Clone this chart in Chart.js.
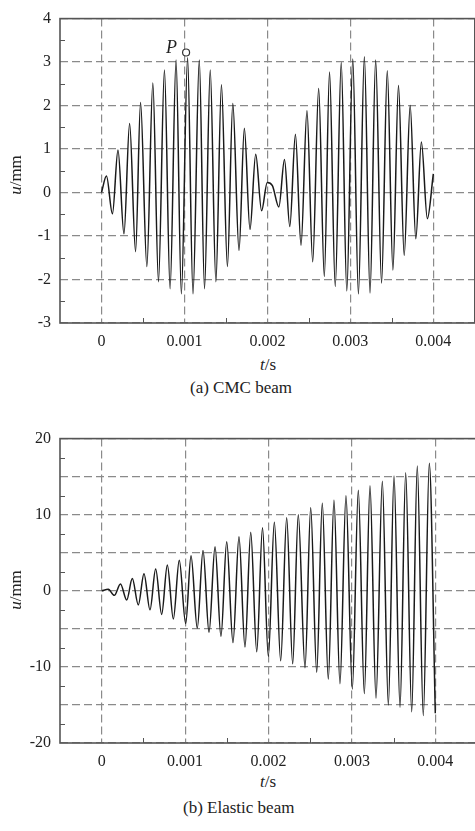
<!DOCTYPE html>
<html>
<head>
<meta charset="utf-8">
<script src="https://cdn.jsdelivr.net/npm/chart.js@4/dist/chart.umd.min.js"></script>
<style>
    html, body { margin: 0; padding: 0; background: #fff; }
    #wrap { position: relative; width: 475px; height: 831px; overflow: hidden; font-family: 'Liberation Serif', serif; color: #222; }
    canvas { position: absolute; left: 0; }
    .lbl { position: absolute; white-space: nowrap; font-size: 17px; }
    .ylab { position: absolute; font-size: 17px; transform: rotate(-90deg); transform-origin: center; white-space: nowrap; }
</style>
</head>
<body>
<div id="wrap">
    <canvas id="cmcChart" width="480" height="350" style="top:0"></canvas>
    <canvas id="elasticChart" width="480" height="350" style="top:420px"></canvas>

    <div class="ylab" style="left:-4px; top:165px;"><i>u</i>/mm</div>
    <div class="lbl" style="left:260px; top:355px;"><i>t</i>/s</div>
    <div class="lbl" style="left:190px; top:378px;">(a) CMC beam</div>

    <div class="ylab" style="left:-4px; top:580px;"><i>u</i>/mm</div>
    <div class="lbl" style="left:260px; top:772px;"><i>t</i>/s</div>
    <div class="lbl" style="left:183px; top:798px;">(b) Elastic beam</div>
</div>

<script>
// time axis ticks
const xTicks = [0, 0.001, 0.002, 0.003, 0.004];
const xMinor = [0.0005, 0.0015, 0.0025, 0.0035];

// (a) CMC beam: extrema
const cmcT = [0, 0.00006, 0.000132, 0.000199, 0.000271, 0.000339, 0.000411, 0.000471, 0.000547,
    0.000619, 0.000687, 0.000759, 0.000827, 0.000899, 0.000963, 0.001038, 0.001103, 0.001179,
    0.001242, 0.001311, 0.001379, 0.001446, 0.001518, 0.001583, 0.001658, 0.001722, 0.00179,
    0.001859, 0.00193, 0.001998, 0.00206, 0.002138, 0.002206, 0.00227, 0.002338, 0.002405,
    0.002477, 0.002546, 0.002618, 0.002686, 0.002749, 0.002818, 0.00289, 0.002957, 0.003029,
    0.003097, 0.003169, 0.003237, 0.003305, 0.003376, 0.003445, 0.003513, 0.00358, 0.003649,
    0.003721, 0.003789, 0.003856, 0.003928, 0.004];
const cmcU = [0, 0.38, -0.49, 0.98, -0.95, 1.59, -1.36, 2.07, -1.70,
    2.52, -2.05, 2.82, -2.21, 3.05, -2.33, 3.10, -2.33, 3.05,
    -2.21, 2.82, -2.05, 2.48, -1.70, 2.05, -1.33, 1.48, -0.85,
    0.88, -0.42, 0.23, 0.16, -0.33, 0.76, -0.78, 1.34, -1.21,
    1.88, -1.59, 2.39, -1.93, 2.77, -2.16, 2.99, -2.26, 3.07,
    -2.33, 3.12, -2.31, 3.05, -2.08, 2.80, -1.78, 2.46, -1.44,
    2.00, -1.06, 1.16, -0.60, 0.43];
const cmcMinorY = [-2.5, -1.5, -0.5, 0.5, 1.5, 2.5, 3.5];
const pointP = { t: 0.00102, u: 3.22 };

// (b) Elastic beam
const elaT = [0, 0.000079, 0.000151, 0.000225, 0.0003, 0.000367, 0.000439, 0.000507, 0.000579,
    0.000647, 0.000719, 0.000787, 0.000859, 0.00093, 0.001007, 0.001071, 0.001146, 0.001215,
    0.001287, 0.001359, 0.00143, 0.001499, 0.001574, 0.001646, 0.001718, 0.001787, 0.001859,
    0.001928, 0.001998, 0.00207, 0.002146, 0.002218, 0.00229, 0.002357, 0.002438, 0.002506,
    0.002578, 0.002645, 0.002717, 0.002785, 0.002857, 0.002929, 0.003005, 0.003077, 0.003149,
    0.003217, 0.003289, 0.003365, 0.003437, 0.003505, 0.003577, 0.003645, 0.003717, 0.003784,
    0.003856, 0.003928, 0.004];
const elaU = [0, 0.2, -0.6, 0.9, -1.2, 1.6, -1.85, 2.25, -2.5,
    2.85, -3.1, 3.4, -3.7, 4.0, -4.3, 4.6, -4.9, 5.3,
    -5.45, 5.8, -6.0, 6.45, -6.8, 7.1, -7.4, 7.7, -8.0,
    8.3, -8.6, 9.0, -9.2, 9.6, -9.6, 10.0, -10.1, 10.9,
    -10.7, 11.5, -11.6, 11.9, -12.2, 12.5, -12.9, 13.2, -13.5,
    13.8, -14.1, 14.4, -15.0, 15.1, -15.3, 15.5, -15.9, 16.4,
    -16.4, 16.75, -16.1];
const elaMinorY = [-17.5, -12.5, -7.5, -2.5, 2.5, 7.5, 12.5, 17.5];

const FONT = "'Liberation Serif', serif";

// frame, inside minor ticks and the "P" label
const framePlugin = {
    id: 'frame',
    afterDatasetsDraw(chart, args, opts) {
        const { ctx, chartArea: a, scales } = chart;
        const x = scales.x, y = scales.y;
        ctx.save();
        ctx.strokeStyle = '#555';
        ctx.lineWidth = 1;
        ctx.beginPath();
        xMinor.forEach(v => {
            const px = Math.round(x.getPixelForValue(v)) + 0.5;
            ctx.moveTo(px, a.bottom);
            ctx.lineTo(px, a.bottom - 5);
        });
        (opts.yMinor || []).forEach(v => {
            const py = Math.round(y.getPixelForValue(v)) + 0.5;
            ctx.moveTo(a.left, py);
            ctx.lineTo(a.left + 5, py);
        });
        ctx.stroke();

        ctx.lineWidth = 1.6;
        ctx.strokeRect(a.left, a.top, a.right - a.left, a.bottom - a.top);

        if (opts.pLabel) {
            const px = x.getPixelForValue(pointP.t);
            const py = y.getPixelForValue(pointP.u);
            ctx.fillStyle = '#222';
            ctx.font = `italic 18px ${FONT}`;
            ctx.textAlign = 'right';
            ctx.textBaseline = 'alphabetic';
            ctx.fillText('P', px - 9, py);
        }
        ctx.restore();
    }
};

function makeChart(id, t, u, yMin, yMax, yStep, yMinor, yLabelStep, topPad, withP) {
    const datasets = [{
        data: t.map((v, i) => ({ x: v, y: u[i] })),
        borderColor: '#1a1a1a',
        borderWidth: 1.5,
        pointRadius: 0,
        cubicInterpolationMode: 'monotone',
        fill: false
    }];
    if (withP) {
        datasets.push({
            data: [{ x: pointP.t, y: pointP.u }],
            showLine: false,
            pointRadius: 3.5,
            pointBackgroundColor: '#fff',
            pointBorderColor: '#333',
            pointBorderWidth: 1.2
        });
    }

    return new Chart(document.getElementById(id), {
        type: 'line',
        data: { datasets },
        options: {
            responsive: false,
            animation: false,
            layout: { padding: { top: topPad, right: 3, left: 0, bottom: 0 } },
            plugins: {
                legend: { display: false },
                tooltip: { enabled: false },
                frame: { yMinor, pLabel: withP }
            },
            scales: {
                x: {
                    type: 'linear',
                    min: -0.0005,
                    max: 0.0045,
                    afterBuildTicks: scale => { scale.ticks = xTicks.map(v => ({ value: v })); },
                    afterFit: scale => { scale.height = 27; },
                    grid: { color: '#8a8a8a', lineWidth: 1.2, drawTicks: false },
                    border: { display: false, dash: [8, 4] },
                    ticks: {
                        maxRotation: 0,
                        autoSkip: false,
                        padding: 9,
                        color: '#222',
                        font: { family: FONT, size: 16 },
                        callback: v => v === 0 ? '0' : v.toFixed(3)
                    }
                },
                y: {
                    min: yMin,
                    max: yMax,
                    afterFit: scale => { scale.width = 60; },
                    grid: { color: '#8a8a8a', lineWidth: 1.2, drawTicks: false },
                    border: { display: false, dash: [8, 4] },
                    ticks: {
                        stepSize: yStep,
                        padding: 9,
                        color: '#222',
                        font: { family: FONT, size: 16 },
                        callback: v => (v % yLabelStep === 0 ? String(v) : '')
                    }
                }
            }
        },
        plugins: [framePlugin]
    });
}

makeChart('cmcChart', cmcT, cmcU, -3, 4, 1, cmcMinorY, 1, 14, true);
makeChart('elasticChart', elaT, elaU, -20, 20, 5, elaMinorY, 10, 17, false);
</script>
</body>
</html>
